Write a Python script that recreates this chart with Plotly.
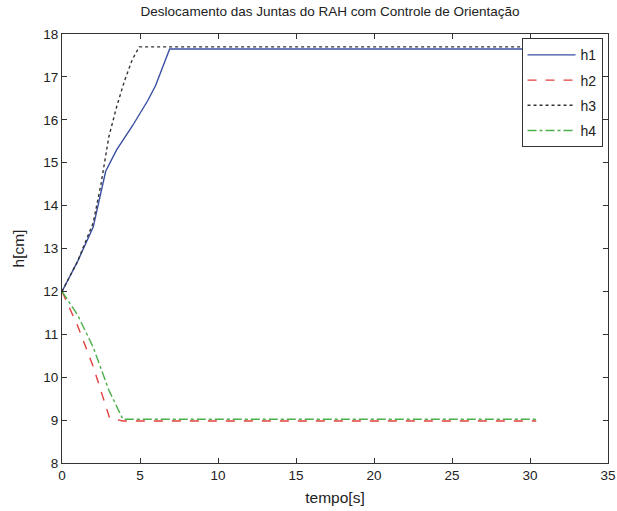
import plotly.graph_objects as go

# Time samples (s) and joint displacements (cm)
t_h1 = [0, 1, 2, 2.8, 3.5, 4.5, 5.5, 6.0, 6.9, 30.4]
h1 = [12, 12.7, 13.5, 14.8, 15.3, 15.85, 16.45, 16.8, 17.65, 17.65]

t_h2 = [0, 1, 2, 3.05, 3.9, 30.4]
h2 = [12, 11.2, 10.25, 9.05, 8.98, 8.98]

t_h3 = [0, 1, 2, 2.5, 3.0, 3.5, 4.0, 4.5, 4.95, 30.4]
h3 = [12, 12.7, 13.6, 14.5, 15.6, 16.3, 16.9, 17.4, 17.7, 17.7]

t_h4 = [0, 1, 2, 3, 3.9, 30.4]
h4 = [12, 11.45, 10.7, 9.7, 9.02, 9.02]

x_ticks = [0, 5, 10, 15, 20, 25, 30, 35]
y_ticks = [8, 9, 10, 11, 12, 13, 14, 15, 16, 17, 18]

font = 'Liberation Sans'
txt = '#222222'

fig = go.Figure()
fig.add_trace(go.Scatter(x=t_h1, y=h1, mode='lines', name='h1', legendgroup='a',
                         line=dict(color='#3a4fa2', width=1.4)))
fig.add_trace(go.Scatter(x=t_h2, y=h2, mode='lines', name='h2', legendgroup='b',
                         line=dict(color='#e2403f', width=1.4, dash='dash')))
fig.add_trace(go.Scatter(x=t_h3, y=h3, mode='lines', name='h3', legendgroup='c',
                         line=dict(color='#333333', width=1.4, dash='dot')))
fig.add_trace(go.Scatter(x=t_h4, y=h4, mode='lines', name='h4', legendgroup='d',
                         line=dict(color='#4cb04a', width=1.4, dash='dashdot')))

axis_style = dict(showline=True, linecolor='#333333', linewidth=1, mirror='ticks',
                  ticks='inside', ticklen=5, tickcolor='#333333',
                  showgrid=False, zeroline=False, automargin=False,
                  tickfont=dict(family=font, size=13.5, color=txt))

fig.update_layout(
    width=617, height=511,
    margin=dict(l=62, r=9, t=34, b=48),
    paper_bgcolor='white', plot_bgcolor='white',
    title=dict(text='Deslocamento das Juntas do RAH com Controle de Orientação',
               x=0.535, xanchor='center', y=1, yanchor='top', pad=dict(t=7),
               font=dict(family=font, size=13.5, color=txt)),
    xaxis=dict(range=[0, 35], tickvals=x_ticks,
               title=dict(text='tempo[s]', standoff=9,
                          font=dict(family=font, size=15.5, color=txt)),
               **axis_style),
    yaxis=dict(range=[8, 18], tickvals=y_ticks,
               title=dict(text='h[cm]', standoff=14,
                          font=dict(family=font, size=15.5, color=txt)),
               **axis_style),
    legend=dict(x=0.99, xanchor='right', y=0.99, yanchor='top',
                bgcolor='white', bordercolor='#333333', borderwidth=1,
                font=dict(family=font, size=14, color=txt),
                traceorder='grouped', tracegroupgap=4, itemwidth=48),
    showlegend=True,
)

# drop the default page margin so the figure fills the window exactly
fig.write_html('out.html',
               config={'displayModeBar': False},
               post_script="document.body.style.margin='0';"
                           "document.body.style.overflow='hidden';")
